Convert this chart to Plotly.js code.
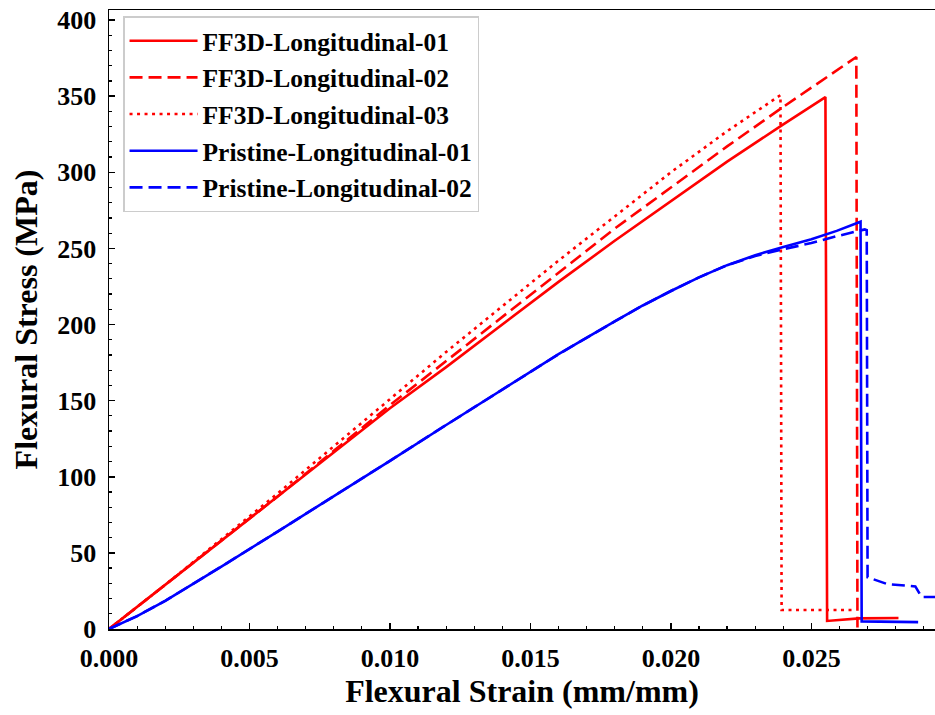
<!DOCTYPE html>
<html>
<head>
<meta charset="utf-8">
<script src="https://cdn.plot.ly/plotly-3.0.1.min.js"></script>
<style>html,body{margin:0;padding:0;background:#fff;}#chart{width:935px;height:715px;}</style>
</head>
<body>
<div id="chart"></div>
<script>
// Series names
const seriesNames = ["FF3D-Longitudinal-01","FF3D-Longitudinal-02","FF3D-Longitudinal-03","Pristine-Longitudinal-01","Pristine-Longitudinal-02"];

// FF3D-Longitudinal-01 (strain mm/mm, stress MPa)
const ff01Strain = [0, 0.001, 0.002, 0.004, 0.006, 0.008, 0.010, 0.012, 0.014, 0.016, 0.018, 0.020, 0.022, 0.024, 0.0255, 0.02556, 0.0267, 0.0281];
const ff01Stress = [0, 14.5, 29, 58, 87, 116, 145, 172, 200, 228, 255, 281, 307, 331.5, 349.4, 5.3, 7, 7.2];

// FF3D-Longitudinal-02
const ff02Strain = [0, 0.001, 0.002, 0.004, 0.006, 0.008, 0.010, 0.012, 0.014, 0.016, 0.018, 0.020, 0.022, 0.024, 0.0266, 0.02664];
const ff02Stress = [0, 14.5, 29, 58, 87, 117, 147, 176, 205, 234, 263, 290, 317, 343, 375.7, 1];

// FF3D-Longitudinal-03
const ff03Strain = [0, 0.001, 0.002, 0.004, 0.006, 0.008, 0.010, 0.012, 0.014, 0.016, 0.018, 0.020, 0.022, 0.0239, 0.02394, 0.02644];
const ff03Stress = [0, 14.5, 29, 59, 89, 120, 151, 182, 212, 242, 271, 300, 327, 350.7, 12.5, 12.5];

// Pristine-Longitudinal-01
const pr01Strain = [0, 0.001, 0.002, 0.003, 0.004, 0.006, 0.008, 0.010, 0.012, 0.014, 0.016, 0.018, 0.019, 0.020, 0.021, 0.022, 0.023, 0.024, 0.025, 0.0259, 0.02675, 0.02679, 0.0288];
const pr01Stress = [0, 8.5, 18.5, 29.5, 41, 64, 87, 110.5, 134, 157.5, 180.5, 202, 212.5, 222, 231, 239, 245.5, 251, 256, 261.5, 267.5, 5, 4.5];

// Pristine-Longitudinal-02
const pr02Strain = [0, 0.001, 0.002, 0.003, 0.004, 0.006, 0.008, 0.010, 0.012, 0.014, 0.016, 0.018, 0.019, 0.020, 0.021, 0.022, 0.023, 0.024, 0.025, 0.0259, 0.0269, 0.02697, 0.0270, 0.0277, 0.0287, 0.02892, 0.0296];
const pr02Stress = [0, 8.5, 18.5, 29.5, 41, 64, 87, 110.5, 134, 157.5, 180.5, 202, 212.5, 222, 231, 239, 245, 249.5, 253.5, 258, 262.5, 262, 34, 29.5, 28, 21, 21];

// Tick values / labels
const xTickVals = [0, 0.005, 0.010, 0.015, 0.020, 0.025];
const xTickText = ["0.000","0.005","0.010","0.015","0.020","0.025"];
const yTickVals = [0, 50, 100, 150, 200, 250, 300, 350, 400];

const FONT = "Liberation Serif, Times New Roman, serif";
const RED = "#ff0000", BLUE = "#0000ff";

function tr(i, x, y, color, dash) {
  return {
    type: "scatter", mode: "lines", x: x, y: y, name: seriesNames[i],
    legendgroup: "g" + i,
    line: {color: color, width: 2.6, dash: dash},
    hoverinfo: "skip"
  };
}

const data = [
  tr(0, ff01Strain, ff01Stress, RED, "solid"),
  tr(1, ff02Strain, ff02Stress, RED, "13px,6px"),
  tr(2, ff03Strain, ff03Stress, RED, "3px,4.5px"),
  tr(3, pr01Strain, pr01Stress, BLUE, "solid"),
  tr(4, pr02Strain, pr02Stress, BLUE, "13px,6px")
];

const layout = {
  width: 935, height: 715,
  margin: {l: 109, r: 0, t: 10, b: 86, pad: 0},
  paper_bgcolor: "#fff", plot_bgcolor: "#fff",
  showlegend: true,
  legend: {
    x: 0.017, y: 0.99, xanchor: "left", yanchor: "top",
    bgcolor: "rgba(255,255,255,0.9)", bordercolor: "#cccccc", borderwidth: 1.5,
    font: {family: FONT, size: 25.5, color: "#000", weight: "bold"},
    traceorder: "grouped", tracegroupgap: 0.5,
    itemwidth: 68
  },
  xaxis: {
    range: [0, 0.0294], showgrid: false, zeroline: false,
    showline: true, linecolor: "#000", linewidth: 1.5, mirror: true,
    ticks: "inside", ticklen: 6, tickwidth: 1.5, tickcolor: "#000",
    tickvals: xTickVals, ticktext: xTickText,
    ticklabelstandoff: 5,
    tickfont: {family: FONT, size: 26, color: "#000", weight: "bold"},
    minor: {dtick: 0.001, tick0: 0, ticks: "inside", ticklen: 3, tickwidth: 1.2, tickcolor: "#000", showgrid: false},
    title: {text: "Flexural Strain (mm/mm)", font: {family: FONT, size: 32, color: "#000", weight: "bold"}, standoff: 3}
  },
  yaxis: {
    range: [0, 406.6], showgrid: false, zeroline: false,
    showline: true, linecolor: "#000", linewidth: 1.5, mirror: false,
    ticks: "inside", ticklen: 6, tickwidth: 1.5, tickcolor: "#000",
    tickvals: yTickVals,
    ticklabelstandoff: 6,
    tickfont: {family: FONT, size: 26, color: "#000", weight: "bold"},
    minor: {dtick: 10, tick0: 0, ticks: "inside", ticklen: 3, tickwidth: 1.2, tickcolor: "#000", showgrid: false},
    title: {text: "Flexural Stress (MPa)", font: {family: FONT, size: 32, color: "#000", weight: "bold"}, standoff: 10}
  }
};

Plotly.newPlot("chart", data, layout, {displayModeBar: false, staticPlot: true});
</script>
</body>
</html>
